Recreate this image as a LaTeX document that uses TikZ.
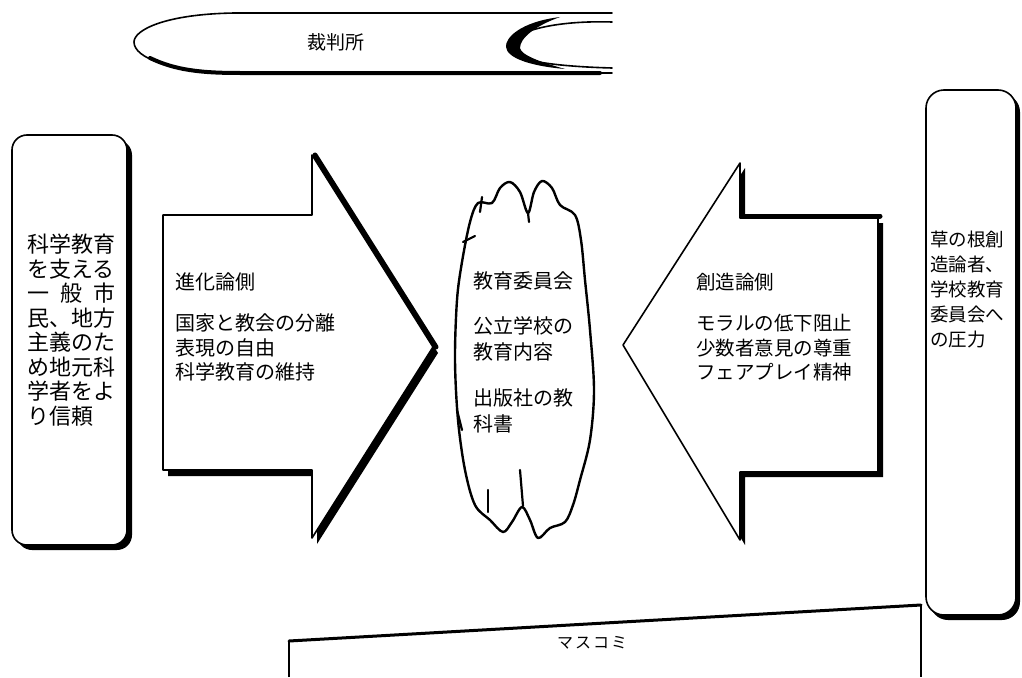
\documentclass[tikz,border=0pt]{standalone}
\usepackage{fontspec}
\newfontfamily\jp{Noto Sans CJK JP}
\tikzset{
  outline/.style={line width=1.6pt, line join=round, line cap=round},
  heavy/.style={line width=5pt, line join=round, line cap=round},
  txt/.style={anchor=north west, inner sep=0pt, align=left},
}
\begin{document}
\begin{tikzpicture}[x=1pt,y=-1pt]
\useasboundingbox (0,0) rectangle (1022,677);

% ---------- top banner (court) ----------
\draw[outline] (612,13) -- (235,13) .. controls (165,14) and (134,30) .. (134,42)
   .. controls (134,58) and (170,72) .. (240,73) -- (612,73);
\draw[line width=4pt, line cap=round] (150,58) .. controls (175,70) and (200,73) .. (240,73) -- (600,73);
\draw[outline] (612,22) .. controls (545,20) and (508,35) .. (508,47)
   .. controls (508,58) and (540,66) .. (612,68);
\fill (560,17) .. controls (520,22) and (505,38) .. (506,47) .. controls (507,58) and (530,66) .. (565,69)
   .. controls (540,62) and (521,55) .. (520,48) .. controls (520,38) and (535,26) .. (560,17) -- cycle;
\node[font={\jp\fontsize{19}{22}\selectfont}] (court) at (336,42) {裁判所};

% ---------- left box ----------
\fill[rounded corners=15pt] (17,140) rectangle (132,550);
\draw[outline, fill=white, rounded corners=15pt] (12,135) rectangle (127,545);
\node[txt, font={\jp\fontsize{22}{24.5}\selectfont}] (citizens) at (27,234)
  {科学教育\\を支える\\\makebox[88pt][s]{一\hfill 般\hfill 市}\\民、地方\\主義のた\\め地元科\\学者をよ\\り信頼};

% ---------- left arrow ----------
\fill (168,221) -- (317,221) -- (317,161) -- (438,353) -- (317,544) -- (317,476) -- (168,476) -- cycle;
\draw[outline, fill=white] (163,215) -- (312,215) -- (312,155) -- (433,347) -- (312,538) -- (312,470) -- (163,470) -- cycle;
\draw[heavy] (315,155) -- (436,347);
\node[txt, font={\jp\fontsize{20}{24.5}\selectfont}] (evo) at (175,273)
  {進化論側\\[16.5pt]国家と教会の分離\\表現の自由\\科学教育の維持};

% ---------- right arrow ----------
\fill (883,223) -- (745,223) -- (745,168) -- (628,350) -- (745,545) -- (745,477) -- (883,477) -- cycle;
\draw[outline, fill=white] (878,218) -- (740,218) -- (740,163) -- (623,345) -- (740,540) -- (740,472) -- (878,472) -- cycle;
\draw[heavy] (742,216) -- (880,216);
\node[txt, font={\jp\fontsize{19.5}{24.5}\selectfont}] (cre) at (696,273)
  {創造論側\\[16.5pt]モラルの低下阻止\\少数者意見の尊重\\フェアプレイ精神};

% ---------- cloud ----------
\draw[line width=2.4pt, line join=round] plot[smooth cycle, tension=0.55] coordinates {
  (462,262) (470,222) (478,203) (492,203) (500,188) (510,182) (520,192) (528,213)
  (534,192) (542,181) (552,188) (560,205) (575,215) (581,240) (585,280) (590,330)
  (594,390) (590,440) (580,480) (573,505) (565,522) (550,528) (538,538) (530,520)
  (522,507) (512,522) (503,532) (490,520) (475,505) (465,470) (458,420) (455,360) (457,300)};
\draw[line width=2.2pt, line cap=round] (488,490) -- (488,512);
\draw[line width=2.2pt, line cap=round] (520,470) -- (523,506);
\draw[line width=2.2pt, line cap=round] (482,197) -- (480,212);
\draw[line width=2.2pt, line cap=round] (528,213) -- (529,222);
\draw[line width=2.2pt, line cap=round] (463,242) -- (475,236);
\draw[line width=2.2pt, line cap=round] (457,410) -- (462,430);
\node[txt, font={\jp\fontsize{20}{26}\selectfont}] (board) at (473,271)
  {教育委員会\\[19pt]公立学校の\\教育内容\\[20pt]出版社の教\\科書};

% ---------- right box ----------
\fill[rounded corners=18pt] (930,94) rectangle (1020,620);
\draw[outline, fill=white, rounded corners=18pt] (926,90) rectangle (1016,615);
\node[txt, font={\jp\fontsize{18.5}{25}\selectfont}] (grass) at (930,231)
  {草の根創\\造論者、\\学校教育\\委員会へ\\の圧力};

% ---------- bottom box (media) ----------
\draw[line width=1.5pt] (289,677) -- (289,641);
\draw[line width=1.5pt] (921,605) -- (921,677);
\draw[line width=3pt, line cap=round] (289,641) -- (921,605);
\node[font={\jp\fontsize{16}{20}\selectfont}] (media) at (592,643) {マ\hspace{2pt}ス\hspace{2pt}コ\hspace{2pt}ミ};
\end{tikzpicture}
\end{document}
